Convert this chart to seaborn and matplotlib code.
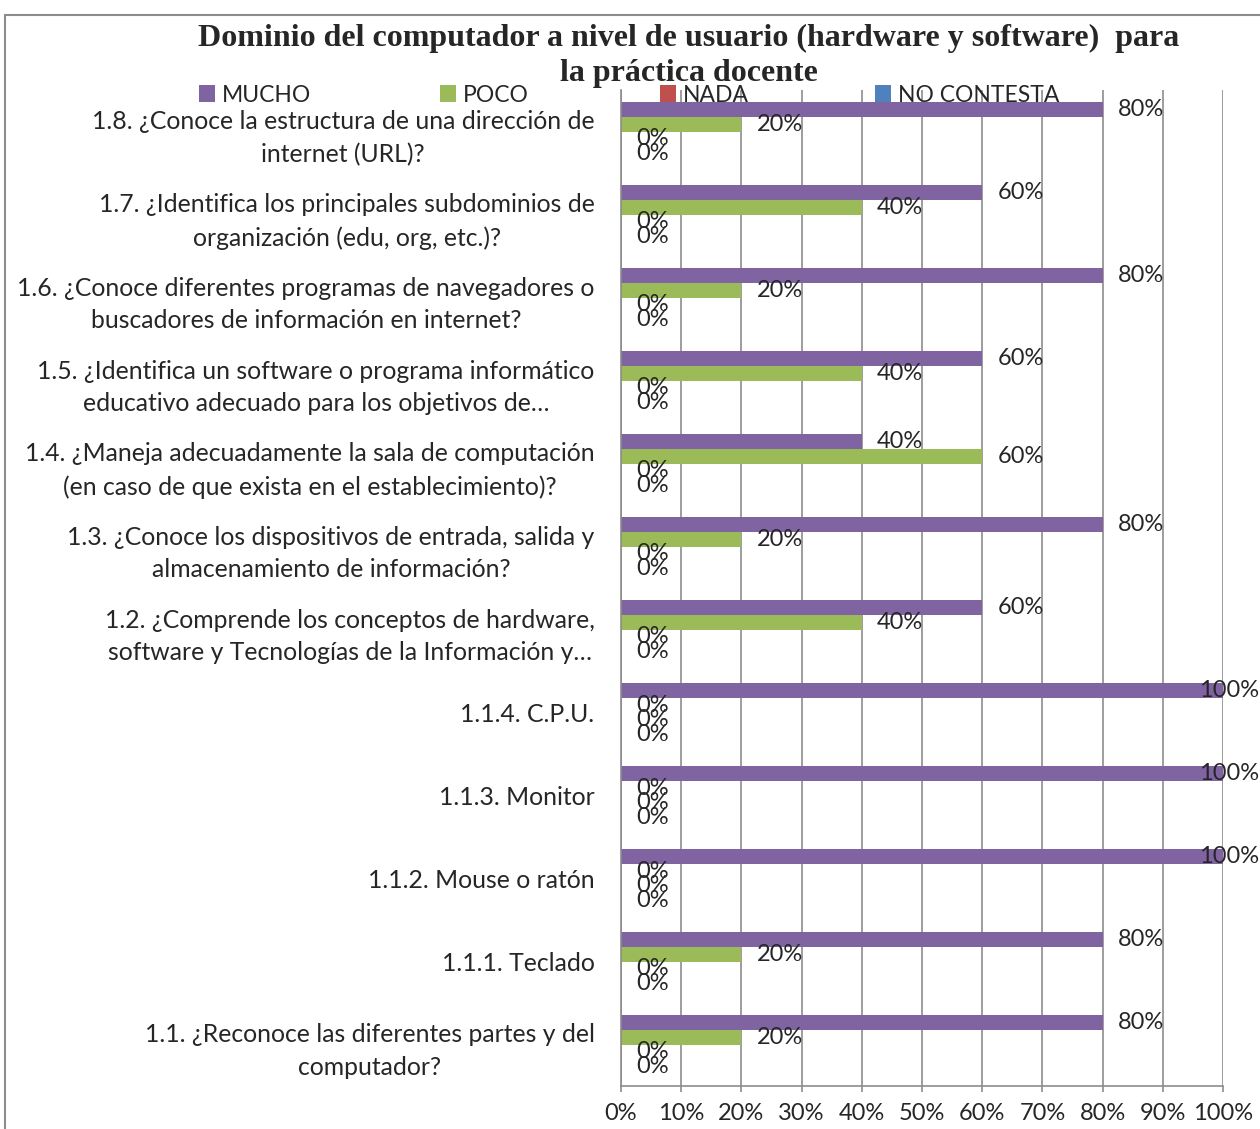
import matplotlib
matplotlib.use('Agg')
import matplotlib.pyplot as plt
import seaborn as sns
import pandas as pd
from matplotlib.patches import Rectangle, Patch

categories = [
    "1.8. ¿Conoce la estructura de una dirección de\ninternet (URL)?",
    "1.7. ¿Identifica los principales subdominios de\norganización (edu, org, etc.)?",
    "1.6. ¿Conoce diferentes programas de navegadores o\nbuscadores de información en internet?",
    "1.5. ¿Identifica un software o programa informático\neducativo adecuado para los objetivos de…",
    "1.4. ¿Maneja adecuadamente la sala de computación\n(en caso de que exista en el establecimiento)?",
    "1.3. ¿Conoce los dispositivos de entrada, salida y\nalmacenamiento de información?",
    "1.2. ¿Comprende los conceptos de hardware,\nsoftware y Tecnologías de la Información y…",
    "1.1.4. C.P.U.",
    "1.1.3. Monitor",
    "1.1.2. Mouse o ratón",
    "1.1.1. Teclado",
    "1.1. ¿Reconoce las diferentes partes y del\ncomputador?",
]
mucho = [80, 60, 80, 60, 40, 80, 60, 100, 100, 100, 80, 80]
poco = [20, 40, 20, 40, 60, 20, 40, 0, 0, 0, 20, 20]
nada = [0, 0, 0, 0, 0, 0, 0, 0, 0, 0, 0, 0]
no_contesta = [0, 0, 0, 0, 0, 0, 0, 0, 0, 0, 0, 0]
series_names = ["MUCHO", "POCO", "NADA", "NO CONTESTA"]
colors = ["#8064A2", "#9BBB59", "#C0504D", "#4F81BD"]
xticks = [0, 10, 20, 30, 40, 50, 60, 70, 80, 90, 100]
xtick_labels = ["0%", "10%", "20%", "30%", "40%", "50%", "60%", "70%", "80%", "90%", "100%"]
title = "Dominio del computador a nivel de usuario (hardware y software)  para\nla práctica docente"

rows = []
for name, vals in zip(series_names, [mucho, poco, nada, no_contesta]):
    for c, v in zip(categories, vals):
        rows.append({"cat": c, "serie": name, "valor": v})
df = pd.DataFrame(rows)

sns.set_theme(style="white")
plt.rcParams["font.family"] = ["Lato", "DejaVu Sans"]
FS_CAT = 17.8
FS = 17.0
FS_LEG = 16.5
GRAY = "#8c8c8c"

W, H = 1260, 1129
fig = plt.figure(figsize=(W / 100, H / 100), dpi=100)
ax = fig.add_axes([621 / W, 1 - 1086 / H, (1223 - 621) / W, (1086 - 90) / H])

sns.barplot(data=df, y="cat", x="valor", hue="serie", order=categories,
            hue_order=series_names, palette=colors, orient="h", width=0.7,
            saturation=1, linewidth=0, ax=ax, legend=False, errorbar=None)

ax.set_xlim(0, 100)
ax.set_xticks(xticks)
ax.set_xticklabels(xtick_labels, fontsize=FS)
ax.set_xlabel("")
ax.set_ylabel("")
ax.xaxis.grid(True, color=GRAY, lw=1.2)
ax.yaxis.grid(False)
ax.set_axisbelow(True)
for s in ["top", "right"]:
    ax.spines[s].set_visible(False)
for s in ["left", "bottom"]:
    ax.spines[s].set_color(GRAY)
    ax.spines[s].set_linewidth(1.2)
ax.tick_params(axis="x", direction="out", length=4, width=1.2, color=GRAY, pad=8, bottom=True)
ax.tick_params(axis="y", length=0, pad=19)
for t in ax.get_yticklabels():
    t.set_fontsize(FS_CAT)
    t.set_multialignment("center")
    t.set_linespacing(1.5)

for cont in ax.containers:
    vals = cont.datavalues
    anns = ax.bar_label(cont, labels=[f"{v:g}%" for v in vals], padding=11, fontsize=FS)
    for a, v in zip(anns, vals):
        if v >= 100:
            a.xyann = (-17, 0)
        a.set_clip_on(False)

fig.text(689 / W, 1 - 56 / H, title, ha="center", va="center", multialignment="center",
         fontsize=23, fontweight="bold", family=["Liberation Serif", "DejaVu Serif"], linespacing=1.25)

leg_x = [199, 440, 660, 875]
for name, col, x in zip(series_names, colors, leg_x):
    fig.legend(handles=[Patch(facecolor=col, edgecolor="none", label=name)],
               loc="center left", bbox_to_anchor=(x / W, 1 - 95 / H), frameon=False,
               handlelength=0.7, handleheight=0.7, handletextpad=0.3,
               borderaxespad=0, borderpad=0, fontsize=FS_LEG)

fig.patches.append(Rectangle((5 / W, -0.1), 1.2, 1 - 15 / H + 0.1, transform=fig.transFigure,
                             fill=False, edgecolor=GRAY, lw=1.5))

fig.savefig("out.png", dpi=100)
